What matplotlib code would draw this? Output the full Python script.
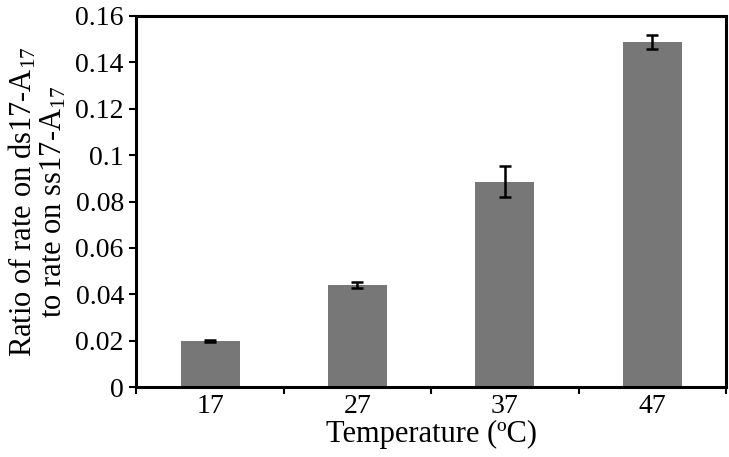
import numpy as np
import matplotlib
matplotlib.use('Agg')
import matplotlib.pyplot as plt

plt.rcParams['font.family'] = ['Liberation Serif', 'DejaVu Serif']
plt.rcParams['mathtext.fontset'] = 'custom'
plt.rcParams['mathtext.rm'] = 'Liberation Serif'
plt.rcParams['mathtext.it'] = 'Liberation Serif:italic'

# dati
temperatures = ['17', '27', '37', '47']
ratios = [0.0199, 0.0441, 0.0886, 0.1488]
errors = [0.0004, 0.0013, 0.0068, 0.0030]

fig = plt.figure(figsize=(7.29, 4.57), dpi=100)
ax = fig.add_axes([0.187, 0.153, 0.809, 0.812])

x = np.arange(len(temperatures))
ax.bar(x, ratios, width=0.4, color='#777777')
ax.errorbar(x, ratios, yerr=errors, fmt='none', ecolor='black',
            elinewidth=1.8, capsize=4, capthick=1.8)

ax.set_xlim(-0.5, len(temperatures) - 0.5)
ax.set_ylim(0, 0.16)
ax.set_yticks(np.arange(0, 0.161, 0.02))
ax.set_yticklabels(['0', '0.02', '0.04', '0.06', '0.08', '0.1', '0.12', '0.14', '0.16'])

# etichette categorie al centro, tacche tra le categorie
ax.set_xticks(np.arange(-0.5, len(temperatures), 1.0))
ax.set_xticklabels([])
ax.set_xticks(x, minor=True)
ax.set_xticklabels(temperatures, minor=True)
ax.tick_params(axis='x', which='minor', length=0, pad=5, labelsize=20)
ax.tick_params(axis='x', which='major', direction='out', length=5, width=1.5)
ax.tick_params(axis='y', direction='out', length=5, width=1.5, pad=4, labelsize=20)

for s in ax.spines.values():
    s.set_linewidth(2.2)

ax.set_xlabel('Temperature (ºC)', fontsize=22, labelpad=1)
ax.set_ylabel('Ratio of rate on ds17-A$_{17}$\nto rate on ss17-A$_{17}$', fontsize=22,
              linespacing=1.0, labelpad=5)

fig.savefig('out.png', dpi=100)
